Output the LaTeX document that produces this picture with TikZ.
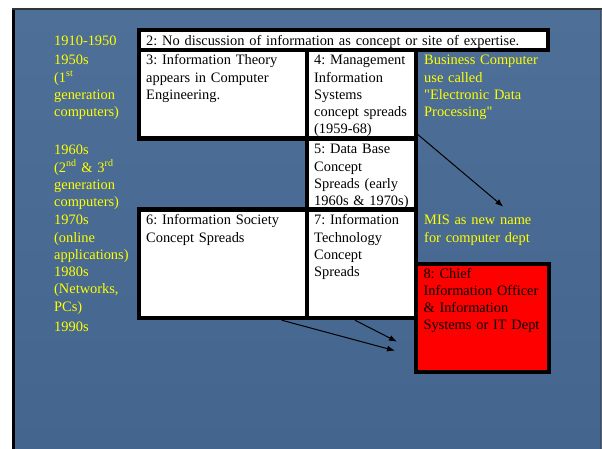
\documentclass[tikz,border=0pt]{standalone}
\usepackage{fontspec}
\setmainfont{Liberation Serif}[Ligatures=TeXOff]
\usetikzlibrary{calc,arrows.meta}
\definecolor{slidetop}{RGB}{78,111,151}
\definecolor{slidebottom}{RGB}{68,102,142}
\definecolor{eraYellow}{RGB}{255,255,0}
\tikzset{
  box/.style={draw=black, line width=4.2pt, fill=white, outer sep=0pt, inner sep=0pt, anchor=north west},
  boxtext/.style={anchor=base west, inner sep=0pt, align=left, text width=#1, text=black,
    font=\fontsize{14.4}{17.2}\selectfont\frenchspacing},
  eratext/.style={boxtext=#1, text=eraYellow},
  link/.style={-{Latex[length=8pt,width=6pt]}, line width=1pt}
}

\begin{document}
\begin{tikzpicture}[x=1pt,y=-1pt]
    \useasboundingbox (0,0) rectangle (602,449);
    % Slide background
    \shade[top color=slidetop, bottom color=slidebottom] (13,9) rectangle (602,449);
    \draw[line width=3pt] (13.5,9) -- (13.5,449);
    \draw[line width=1.5pt, black!80] (12,9.2) -- (602,9.2);
    \draw[line width=1pt, black!70] (600,9) -- (600,449);

    % Era labels
    \node[eratext=90pt] (e1910) at (54,45.7) {1910-1950};
    \node[eratext=90pt] (e1950) at (54,65) {1950s\\(1\textsuperscript{st}\\generation\\computers)};
    \node[eratext=90pt] (e1960) at (54,155) {1960s\\(2\textsuperscript{nd} \& 3\textsuperscript{rd}\\generation\\computers)};
    \node[eratext=90pt] (e1970) at (54,225) {1970s\\(online\\applications)};
    \node[eratext=90pt] (e1980) at (54,276.7) {1980s\\(Networks,\\PCs)};
    \node[eratext=90pt] (e1990) at (54,331.7) {1990s};

    % Concept boxes
    \node[box, minimum width=409pt, minimum height=20pt] (box2) at (139,30) {};
    \node[box, minimum width=168pt, minimum height=88.5pt] (box3) at (139,50) {};
    \node[box, minimum width=109pt, minimum height=88.5pt] (box4) at (307,50) {};
    \node[box, minimum width=109pt, minimum height=71pt] (box5) at (307,138.5) {};
    \node[box, minimum width=168pt, minimum height=108.7pt] (box6) at (139,209.5) {};
    \node[box, minimum width=109pt, minimum height=108.7pt] (box7) at (307,209.5) {};
    \node[box, fill=red, minimum width=132.5pt, minimum height=107.9pt] (box8) at (416.2,264.3) {};

    \node[boxtext=400pt] (t2) at (146,45.7) {2: No discussion of information as concept or site of expertise.};
    \node[boxtext=160pt] (t3) at (146,65) {3: Information Theory\\appears in Computer\\Engineering.};
    \node[boxtext=104pt] (t4) at (314,65) {4: Management\\Information\\Systems\\concept spreads\\(1959-68)};
    \node[boxtext=104pt] (t5) at (314,154) {5: Data Base\\Concept\\Spreads (early\\1960s \& 1970s)};
    \node[boxtext=160pt] (t6) at (146,225) {6: Information Society\\Concept Spreads};
    \node[boxtext=104pt] (t7) at (314,225) {7: Information\\Technology\\Concept\\Spreads};
    \node[boxtext=126pt] (t8) at (423.3,278.3) {8: Chief\\Information Officer\\\& Information\\Systems or IT Dept};

    % Side notes
    \node[eratext=130pt] (edp) at (424,65) {Business Computer\\use called\\"Electronic Data\\Processing"};
    \node[eratext=130pt] (mis) at (424,225) {MIS as new name\\for computer dept};

    % Arrows
    \coordinate (misTip) at (503.3,206.7);
    \coordinate (cioTipA) at (395,350.7);
    \coordinate (cioTipB) at (397,341.7);
    \draw[link] ([yshift=5.5pt]box4.south east) -- (misTip);
    \draw[link] ([xshift=58.7pt,yshift=-2pt]box6.south) -- (cioTipA);
    \draw[link] ([xshift=-6.5pt,yshift=-2pt]box7.south) -- (cioTipB);
\end{tikzpicture}
\end{document}
